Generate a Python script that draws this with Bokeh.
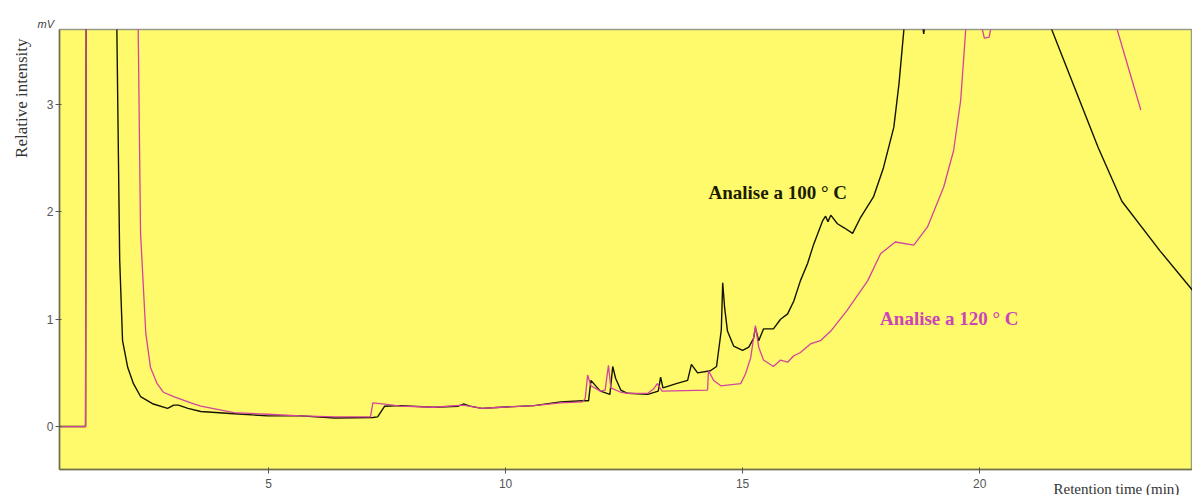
from bokeh.plotting import figure
from bokeh.models import Label, Title, FixedTicker, Range1d
from bokeh.embed import file_html
from bokeh.resources import INLINE

# --- data (retention time in min, relative intensity in mV) ---
t100 = [0.59, 1.14, 1.16, 1.78, 1.80, 1.86, 1.92, 2.03, 2.15, 2.30, 2.57, 2.87, 3.00, 3.10,
        3.30, 3.57, 4.27, 4.98, 5.68, 6.40, 7.20, 7.30, 7.45, 7.78, 8.48, 9.00, 9.11, 9.25,
        9.50, 9.90, 10.60, 11.16, 11.62, 11.75, 11.80, 11.86, 12.00, 12.20, 12.26, 12.32,
        12.43, 12.57, 13.00, 13.22, 13.27, 13.32, 13.60, 13.84, 13.92, 14.05, 14.32, 14.45,
        14.55, 14.58, 14.62, 14.68, 14.81, 15.00, 15.13, 15.23, 15.27, 15.34, 15.44, 15.65,
        15.80, 15.95, 16.08, 16.22, 16.37, 16.50, 16.69, 16.75, 16.80, 16.86, 17.00, 17.15,
        17.32, 17.49, 17.76, 17.97, 18.19, 18.30, 18.40, 18.50, 18.75, 18.82, 18.90, 19.10,
        21.30, 21.52, 22.50, 23.00, 23.80, 24.49]
v100 = [0.0, 0.0, 6.0, 6.0, 3.70, 1.55, 0.80, 0.55, 0.40, 0.28, 0.21, 0.17, 0.20, 0.20,
        0.17, 0.14, 0.12, 0.10, 0.10, 0.08, 0.085, 0.09, 0.19, 0.195, 0.18, 0.19, 0.21, 0.19,
        0.17, 0.18, 0.195, 0.23, 0.24, 0.24, 0.43, 0.40, 0.33, 0.30, 0.56, 0.45,
        0.34, 0.31, 0.30, 0.33, 0.46, 0.36, 0.40, 0.43, 0.58, 0.50, 0.52, 0.56,
        0.90, 1.34, 1.11, 0.89, 0.75, 0.71, 0.74, 0.82, 0.92, 0.80, 0.91, 0.91,
        1.00, 1.05, 1.17, 1.36, 1.52, 1.70, 1.92, 1.96, 1.91, 1.97, 1.89, 1.85,
        1.80, 1.95, 2.14, 2.41, 2.79, 3.20, 3.69, 4.5, 3.9, 3.66, 3.9, 5.0,
        5.0, 3.70, 2.60, 2.10, 1.64, 1.27]

t120 = [0.59, 1.14, 1.16, 2.22, 2.25, 2.30, 2.41, 2.51, 2.65, 2.78, 3.00, 3.36, 3.57, 4.27,
        4.98, 5.68, 6.40, 7.15, 7.20, 7.45, 7.78, 8.48, 9.11, 9.50, 9.90, 10.60, 11.16, 11.62,
        11.68, 11.73, 11.80, 12.00, 12.10, 12.17, 12.22, 12.43, 12.57, 13.00, 13.12, 13.20,
        13.30, 14.26, 14.28, 14.39, 14.54, 14.96, 15.06, 15.17, 15.27, 15.34, 15.44, 15.65,
        15.80, 15.95, 16.08, 16.22, 16.43, 16.64, 16.86, 17.20, 17.64, 17.91, 18.22, 18.61,
        18.90, 19.24, 19.45, 19.60, 19.70, 19.78, 19.95, 20.10, 20.20, 20.32, 20.45, 22.70,
        22.90, 23.40]
v120 = [0.0, 0.0, 6.0, 6.0, 3.70, 1.80, 0.87, 0.55, 0.40, 0.32, 0.28, 0.22, 0.19, 0.13,
        0.115, 0.10, 0.09, 0.09, 0.22, 0.21, 0.19, 0.18, 0.20, 0.17, 0.18, 0.195, 0.22, 0.23,
        0.26, 0.48, 0.38, 0.33, 0.34, 0.57, 0.36, 0.32, 0.31, 0.31, 0.35, 0.40,
        0.33, 0.34, 0.52, 0.43, 0.38, 0.40, 0.49, 0.64, 0.94, 0.74, 0.62, 0.56,
        0.62, 0.60, 0.66, 0.69, 0.77, 0.80, 0.89, 1.08, 1.36, 1.61, 1.72, 1.69,
        1.86, 2.23, 2.57, 3.04, 3.66, 4.2, 3.9, 3.62, 3.63, 3.9, 4.6, 4.6,
        3.70, 2.95]

x_ticks = [5, 10, 15, 20]
y_ticks = [0, 1, 2, 3]

label_100 = "Analise a 100 ° C"
label_120 = "Analise a 120 ° C"
x_title = "Retention time (min)"
y_title = "Relative intensity"
y_unit = "mV"

X0, X1 = 0.59, 24.49
Y0, Y1 = -0.40, 3.70

p = figure(width=1192, height=495, x_range=Range1d(X0, X1), y_range=Range1d(Y0, Y1),
           output_backend="svg", toolbar_location=None,
           min_border_left=59, min_border_top=29, min_border_right=0, min_border_bottom=26)

p.background_fill_color = "#FFFA6B"
p.border_fill_color = "white"
p.outline_line_color = "#9a9a88"
p.outline_line_width = 1.5
p.xgrid.visible = False
p.ygrid.visible = False

for ax in (p.xaxis[0], p.yaxis[0]):
    ax.axis_line_color = "#6f6f4c"
    ax.axis_line_width = 1.5
    ax.major_tick_line_color = "#555555"
    ax.major_tick_in = 2
    ax.major_tick_out = 4
    ax.minor_tick_line_color = None
    ax.major_label_text_font = "Liberation Sans"
    ax.major_label_text_font_size = "12px"
    ax.major_label_text_color = "#555555"

p.xaxis[0].ticker = FixedTicker(ticks=x_ticks)
p.yaxis[0].ticker = FixedTicker(ticks=y_ticks)
p.xaxis[0].major_label_standoff = 5
p.yaxis[0].major_label_standoff = 2

p.line(t100, v100, line_color="#141400", line_width=1.4)
p.line(t120, v120, line_color="#d2449e", line_width=1.3)

p.add_layout(Label(x=14.28, y=2.182, text=label_100, text_font="Liberation Serif",
                   text_font_style="bold", text_font_size="19px", text_color="#1c1c00",
                   text_baseline="middle", text_align="left"))
p.add_layout(Label(x=17.90, y=1.007, text=label_120, text_font="Liberation Serif",
                   text_font_style="bold", text_font_size="19px", text_color="#cc44b8",
                   text_baseline="middle", text_align="left"))

# unit above the y axis (plot title slot)
p.title.text = y_unit
p.title.align = "left"
p.title.offset = -22
p.title.standoff = 0
p.title.text_font = "Liberation Sans"
p.title.text_font_size = "11px"
p.title.text_font_style = "italic"
p.title.text_color = "#444444"

# y axis title on the left side
p.add_layout(Title(text=y_title, align="right", offset=9, vertical_align="top", standoff=22,
                   text_font="Liberation Serif", text_font_size="17px",
                   text_font_style="normal", text_color="#333333"), "left")

# x axis title, bottom right
p.add_layout(Title(text=x_title, align="left", offset=994, vertical_align="top", standoff=-20,
                   text_font="Liberation Serif", text_font_size="15px",
                   text_font_style="normal", text_color="#333333"), "below")

open("out.html", "w").write(file_html(p, INLINE))
